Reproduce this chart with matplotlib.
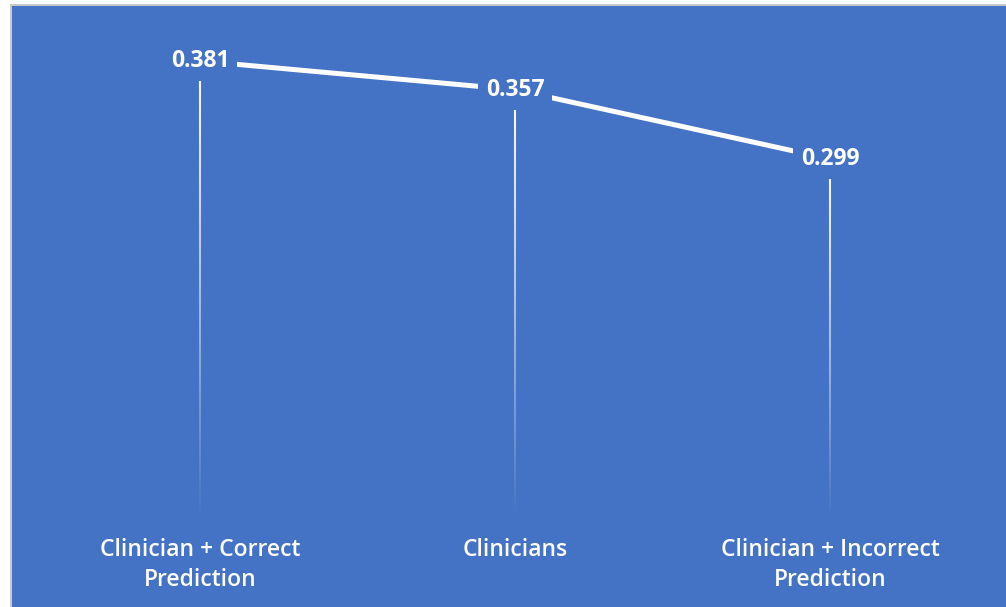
import numpy as np
import matplotlib
matplotlib.use("Agg")
import matplotlib.pyplot as plt
from matplotlib.collections import LineCollection
from matplotlib.patches import Rectangle

categories = ["Clinician + Correct\nPrediction", "Clinicians", "Clinician + Incorrect\nPrediction"]
values = [0.381, 0.357, 0.299]
value_labels = ["0.381", "0.357", "0.299"]

BLUE = "#4472C4"
W, H = 1006, 607
fig = plt.figure(figsize=(W / 100, H / 100), dpi=100, facecolor="white")

# frame border
fig.patches.append(Rectangle((10 / W, 0), 1, (H - 4) / H, transform=fig.transFigure,
                             facecolor="#c8c8c8", edgecolor="none", zorder=-10))
ax = fig.add_axes([12 / W, 0, 1 - 12 / W, (H - 6) / H])
ax.set_zorder(1)
ax.set_facecolor(BLUE)
for s in ax.spines.values():
    s.set_visible(False)
ax.set_xticks([])
ax.set_yticks([])

# scales: category 0 at px 200, 2 at px 830; value 0.381 at px 60, 0.299 at px 158
ppu_x = 315.0
ax.set_xlim(-(200 - 12) / ppu_x, 2 + (1006 - 830) / ppu_x)
ppu_y = 98 / 0.082
ax.set_ylim(0.381 - (607 - 61) / ppu_y, 0.381 + (61 - 6) / ppu_y)

x = np.arange(len(values))

# gradient drop lines
for xi, v in zip(x, values):
    n = 200
    ys = np.linspace(v, 0, n + 1)
    segs = [[(xi, ys[k]), (xi, ys[k + 1])] for k in range(n)]
    t = np.linspace(0, 1, n)
    alphas = np.clip(1 - t, 0, 1) ** 0.9
    cols = [(1, 1, 1, a) for a in alphas]
    lc = LineCollection(segs, colors=cols, linewidths=1.5, zorder=2, capstyle="butt")
    ax.add_collection(lc)

ax.plot(x, values, color="white", lw=3.6, zorder=3, solid_capstyle="butt")

for xi, v, lab in zip(x, values, value_labels):
    ax.text(xi, v, lab, ha="center", va="center", color="white", fontsize=16.5,
            fontweight="bold", family="Open Sans", zorder=5,
            bbox=dict(boxstyle="square,pad=0.35", facecolor=BLUE, edgecolor="none"))

for xi, c in zip(x, categories):
    ax.annotate(c, xy=(xi, 0), xycoords="data", xytext=(0, -22), textcoords="offset pixels",
                ha="center", va="top", color="white", fontsize=16.5, family="Open Sans",
                fontweight="semibold", linespacing=1.3)

fig.savefig("out.png", dpi=100, facecolor="white")
